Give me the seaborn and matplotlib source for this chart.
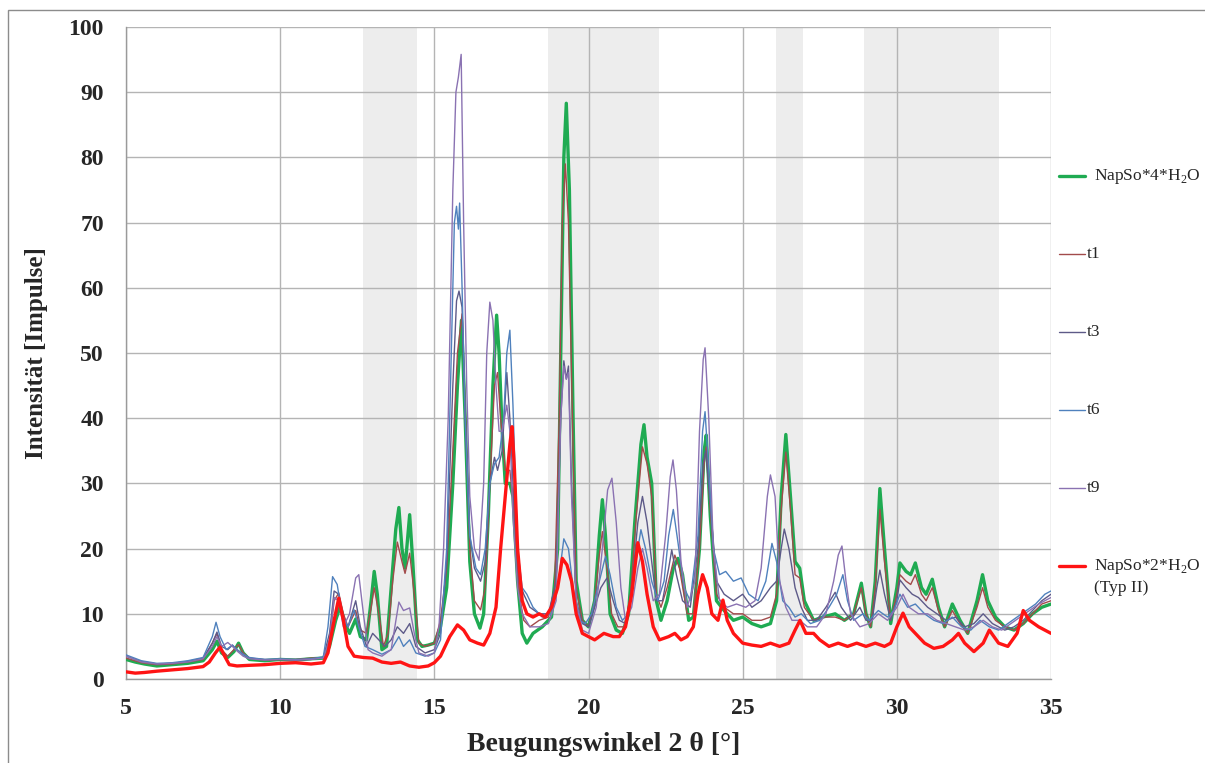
#XRD patterns: NapSo hydrates and samples t1..t9
import seaborn as sns
import matplotlib.pyplot as plt
import pandas as pd
from matplotlib.lines import Line2D
from matplotlib.patches import Rectangle

#Data (2 theta in degrees, intensity in counts)
x_h4 = [5.0, 5.3, 5.6, 6.0, 6.5, 7.0, 7.5, 7.8, 7.95, 8.1, 8.3, 8.5, 8.65, 8.8, 9.0, 9.5, 10.0, 10.5, 11.0, 11.4,
        11.6, 11.8, 11.95, 12.1, 12.25, 12.45, 12.6, 12.8, 12.95, 13.05, 13.15, 13.3, 13.45, 13.6, 13.75, 13.85, 13.95,
        14.05, 14.2, 14.3, 14.45, 14.6, 14.8, 15.0, 15.2, 15.4, 15.6, 15.75, 15.88, 16.0, 16.15, 16.3, 16.48, 16.6,
        16.75, 16.9, 17.02, 17.1, 17.2, 17.3, 17.45, 17.55, 17.7, 17.85, 18.0, 18.2, 18.5, 18.8, 19.0, 19.1, 19.2,
        19.28, 19.38, 19.5, 19.6, 19.8, 20.0, 20.2, 20.35, 20.45, 20.55, 20.7, 20.9, 21.1, 21.3, 21.5, 21.7, 21.8,
        21.9, 22.05, 22.2, 22.35, 22.55, 22.75, 22.9, 23.05, 23.25, 23.4, 23.6, 23.75, 23.82, 23.95, 24.15, 24.4,
        24.7, 25.0, 25.3, 25.6, 25.9, 26.1, 26.25, 26.4, 26.55, 26.7, 26.85, 27.0, 27.3, 27.6, 28.0, 28.3, 28.6,
        28.85, 29.0, 29.15, 29.3, 29.45, 29.6, 29.8, 30.0, 30.1, 30.3, 30.45, 30.6, 30.8, 30.95, 31.15, 31.35, 31.55,
        31.8, 32.05, 32.3, 32.6, 32.78, 32.95, 33.2, 33.5, 33.8, 34.1, 34.4, 34.7, 35.0]
y_h4 = [3.0, 2.6, 2.3, 2.0, 2.2, 2.4, 2.8, 4.5, 5.8, 4.0, 3.3, 4.2, 5.5, 4.0, 3.0, 2.8, 3.0, 2.9, 3.1, 3.2,
        5.0, 9.0, 11.2, 8.5, 7.0, 9.2, 6.5, 6.0, 12.0, 16.5, 13.0, 4.5, 5.0, 14.0, 23.0, 26.3, 20.0,
        17.0, 25.2, 18.0, 6.0, 5.0, 5.2, 5.5, 8.0, 14.0, 30.0, 45.0, 55.0, 40.0, 18.0, 10.0, 7.8, 10.0,
        25.0, 45.0, 55.8, 50.0, 38.0, 30.0, 30.0, 28.0, 15.0, 7.0, 5.5, 7.0, 8.0, 9.5, 20.0, 50.0, 80.0,
        88.3, 75.0, 40.0, 15.0, 9.0, 8.0, 12.0, 22.0, 27.5, 22.0, 10.0, 7.5, 7.0, 10.0, 24.0, 36.0, 39.0,
        34.0, 30.0, 12.0, 9.0, 12.0, 17.0, 18.5, 16.0, 9.0, 9.5, 20.0, 35.0, 37.4, 25.0, 12.0, 10.5,
        9.0, 9.5, 8.5, 8.0, 8.5, 12.0, 28.0, 37.5, 28.0, 18.0, 17.0, 12.0, 9.0, 9.5, 10.0, 9.0, 10.0,
        14.7, 10.0, 8.0, 15.0, 29.2, 20.0, 8.5, 14.0, 17.8, 16.5, 16.0, 17.8, 14.0, 13.0, 15.3, 11.0, 8.0,
        11.5, 9.0, 7.0, 12.0, 16.0, 12.0, 9.5, 8.0, 7.5, 8.5, 10.0, 11.0, 11.5]

x_t1 = [5.0, 5.5, 6.0, 6.5, 7.0, 7.5, 7.8, 7.95, 8.1, 8.3, 8.5, 8.65, 8.8, 9.0, 9.5, 10.0, 10.5, 11.0, 11.4, 11.6,
        11.75, 11.9, 12.05, 12.2, 12.45, 12.6, 12.8, 12.95, 13.05, 13.2, 13.35, 13.5, 13.65, 13.8, 13.95, 14.05, 14.2,
        14.35, 14.5, 14.7, 15.0, 15.2, 15.4, 15.6, 15.75, 15.9, 16.0, 16.15, 16.3, 16.5, 16.65, 16.8, 16.95, 17.05,
        17.15, 17.3, 17.45, 17.6, 17.75, 17.9, 18.1, 18.4, 18.7, 18.9, 19.05, 19.15, 19.25, 19.35, 19.5, 19.6, 19.8,
        20.0, 20.2, 20.35, 20.45, 20.6, 20.75, 20.95, 21.15, 21.35, 21.55, 21.75, 21.9, 22.05, 22.2, 22.35, 22.55,
        22.8, 22.95, 23.2, 23.4, 23.6, 23.75, 23.82, 23.95, 24.15, 24.4, 24.7, 25.0, 25.3, 25.6, 25.9, 26.1, 26.25,
        26.4, 26.55, 26.7, 26.85, 27.0, 27.3, 27.6, 28.0, 28.3, 28.6, 28.85, 29.0, 29.15, 29.3, 29.45, 29.6, 29.8,
        30.0, 30.1, 30.3, 30.45, 30.6, 30.8, 30.95, 31.15, 31.35, 31.55, 31.8, 32.05, 32.3, 32.6, 32.78, 32.95, 33.2,
        33.5, 33.8, 34.1, 34.4, 34.7, 35.0]
y_t1 = [3.2, 2.5, 2.2, 2.3, 2.6, 3.0, 5.5, 7.0, 4.5, 3.5, 4.5, 5.3, 4.0, 3.2, 2.9, 3.0, 3.0, 3.2, 3.3, 6.0,
        12.0, 13.2, 10.0, 8.0, 10.5, 7.5, 7.0, 11.0, 14.0, 10.0, 5.0, 7.0, 15.0, 21.0, 18.0, 16.2, 19.3,
        13.0, 5.5, 5.0, 5.5, 9.0, 17.0, 35.0, 50.0, 56.0, 42.0, 20.0, 12.0, 10.6, 14.0, 30.0, 45.0, 47.0,
        40.0, 32.0, 32.0, 25.0, 13.0, 9.0, 8.0, 9.0, 9.5, 14.0, 40.0, 70.0, 79.0, 70.0, 35.0, 14.0, 9.0,
        8.0, 12.0, 19.0, 22.6, 17.0, 10.0, 8.0, 8.0, 12.0, 25.0, 35.6, 33.0, 28.0, 13.0, 11.0, 14.0,
        19.0, 17.0, 10.0, 10.0, 20.0, 33.0, 35.6, 26.0, 13.0, 11.0, 10.0, 10.0, 9.0, 9.0, 9.5, 13.0, 26.0,
        34.8, 26.0, 16.0, 15.5, 11.0, 9.0, 9.5, 9.5, 9.0, 10.0, 14.0, 10.0, 8.0, 14.0, 26.0, 18.0, 9.0,
        13.0, 16.0, 15.0, 14.5, 16.0, 13.0, 12.0, 14.0, 10.5, 8.0, 10.5, 8.5, 7.0, 11.0, 14.0, 11.0, 9.0,
        8.0, 7.5, 8.5, 10.0, 11.5, 12.0]

x_t3 = [5.0, 5.5, 6.0, 6.5, 7.0, 7.5, 7.8, 7.95, 8.1, 8.3, 8.45, 8.6, 8.8, 9.0, 9.5, 10.0, 10.5, 11.0, 11.4, 11.6,
        11.75, 11.9, 12.05, 12.2, 12.45, 12.6, 12.8, 13.0, 13.2, 13.4, 13.6, 13.8, 14.0, 14.2, 14.4, 14.7, 15.0,
        15.2, 15.4, 15.6, 15.72, 15.8, 15.9, 16.0, 16.15, 16.3, 16.5, 16.65, 16.8, 16.95, 17.05, 17.2, 17.35, 17.45,
        17.6, 17.75, 17.9, 18.1, 18.4, 18.7, 18.95, 19.1, 19.2, 19.28, 19.35, 19.45, 19.6, 19.8, 20.0, 20.2, 20.4,
        20.6, 20.8, 21.0, 21.2, 21.4, 21.6, 21.75, 21.9, 22.05, 22.2, 22.4, 22.6, 22.7, 22.85, 23.05, 23.3, 23.55,
        23.72, 23.8, 23.95, 24.15, 24.4, 24.7, 25.0, 25.3, 25.6, 25.9, 26.1, 26.25, 26.35, 26.5, 26.7, 26.9, 27.1,
        27.4, 27.7, 28.0, 28.2, 28.5, 28.8, 29.0, 29.2, 29.35, 29.45, 29.6, 29.8, 30.0, 30.1, 30.3, 30.5, 30.7,
        31.0, 31.3, 31.6, 31.9, 32.2, 32.5, 32.8, 33.1, 33.5, 33.8, 34.1, 34.4, 34.7, 35.0]
y_t3 = [3.5, 2.7, 2.3, 2.4, 2.7, 3.2, 5.5, 7.2, 5.0, 4.5, 5.2, 4.5, 3.8, 3.2, 3.0, 3.0, 2.9, 3.0, 3.3, 7.0,
        13.5, 13.0, 9.0, 8.0, 12.0, 8.0, 5.0, 7.0, 6.0, 5.0, 6.0, 8.0, 7.0, 8.5, 5.0, 4.0, 4.5,
        7.0, 18.0, 45.0, 58.0, 59.5, 57.0, 40.0, 22.0, 17.0, 15.0, 18.0, 30.0, 34.0, 32.0, 35.0, 47.0, 40.0,
        25.0, 15.0, 13.0, 11.0, 10.0, 10.0, 15.0, 40.0, 48.8, 46.0, 48.0, 30.0, 12.0, 8.5, 8.0, 11.0, 14.0,
        15.5, 12.0, 9.0, 8.5, 14.0, 24.0, 28.0, 24.0, 18.0, 12.0, 12.0, 17.0, 19.8, 16.0, 12.0, 11.0, 20.0,
        33.0, 35.0, 27.0, 15.0, 13.0, 12.0, 13.0, 11.0, 12.0, 14.0, 15.0, 20.0, 23.0, 20.0, 14.0, 11.0, 9.0,
        9.0, 11.0, 13.3, 11.0, 9.0, 11.0, 9.0, 9.0, 14.0, 16.7, 13.0, 9.0, 12.0, 15.2, 14.0, 13.0, 12.5,
        11.0, 10.0, 9.0, 9.5, 8.0, 8.5, 10.0, 8.5, 7.5, 8.0, 9.0, 10.5, 12.0, 13.0]

x_t6 = [5.0, 5.5, 6.0, 6.5, 7.0, 7.5, 7.8, 7.92, 8.05, 8.25, 8.45, 8.6, 8.8, 9.0, 9.5, 10.0, 10.5, 11.0, 11.4, 11.55,
        11.7, 11.85, 12.0, 12.2, 12.4, 12.55, 12.75, 13.0, 13.3, 13.6, 13.85, 14.0, 14.2, 14.4, 14.7, 15.0, 15.2,
        15.4, 15.55, 15.65, 15.72, 15.78, 15.82, 15.9, 16.0, 16.15, 16.35, 16.5, 16.65, 16.8, 16.95, 17.1, 17.25,
        17.35, 17.45, 17.55, 17.7, 17.85, 18.0, 18.2, 18.5, 18.8, 19.0, 19.2, 19.35, 19.5, 19.7, 19.9, 20.1, 20.3,
        20.55, 20.7, 20.9, 21.1, 21.3, 21.5, 21.7, 21.85, 22.05, 22.25, 22.45, 22.6, 22.75, 22.9, 23.1, 23.3, 23.55,
        23.7, 23.78, 23.9, 24.05, 24.25, 24.45, 24.7, 24.95, 25.2, 25.5, 25.75, 25.95, 26.1, 26.3, 26.5, 26.7, 26.9,
        27.2, 27.5, 27.8, 28.05, 28.25, 28.4, 28.6, 28.9, 29.1, 29.4, 29.7, 29.9, 30.1, 30.35, 30.6, 30.9, 31.2,
        31.5, 31.8, 32.1, 32.4, 32.7, 33.0, 33.3, 33.6, 33.9, 34.2, 34.5, 34.8, 35.0]
y_t6 = [3.7, 2.8, 2.4, 2.5, 2.8, 3.3, 6.5, 8.7, 6.5, 4.5, 5.2, 4.5, 3.8, 3.3, 3.0, 3.1, 3.0, 3.1, 3.4, 8.0,
        15.7, 14.5, 10.0, 8.0, 10.6, 8.0, 5.0, 4.5, 3.8, 4.5, 6.5, 5.0, 6.0, 4.0, 3.5, 4.0, 6.0,
        20.0, 50.0, 70.0, 72.5, 69.0, 73.0, 60.0, 40.0, 22.0, 17.0, 16.0, 20.0, 30.0, 33.0, 34.0, 40.0,
        50.0, 53.5, 42.0, 20.0, 14.0, 13.0, 11.0, 9.5, 10.0, 14.0, 21.5, 20.0, 14.0, 9.0, 8.5, 10.0, 14.0,
        18.8, 16.0, 11.0, 9.0, 10.0, 17.0, 22.9, 20.0, 15.0, 12.0, 15.0, 22.0, 26.0, 21.0, 14.0, 12.0, 22.0,
        38.0, 41.0, 32.0, 20.0, 16.0, 16.5, 15.0, 15.5, 13.0, 12.0, 15.0, 20.8, 18.0, 12.0, 11.0, 9.5, 10.0,
        8.5, 9.0, 11.0, 13.0, 16.0, 12.0, 9.0, 10.0, 9.0, 10.5, 9.5, 10.5, 13.0, 11.0, 11.5, 10.0, 9.0,
        8.5, 9.5, 8.0, 7.5, 9.0, 8.0, 7.5, 8.5, 9.5, 10.5, 11.5, 13.0, 13.5]

x_t9 = [5.0, 5.5, 6.0, 6.5, 7.0, 7.5, 7.8, 7.95, 8.1, 8.3, 8.45, 8.6, 8.8, 9.0, 9.5, 10.0, 10.5, 11.0, 11.4, 11.6,
        11.75, 11.9, 12.05, 12.25, 12.45, 12.55, 12.7, 12.85, 13.0, 13.3, 13.6, 13.85, 14.0, 14.2, 14.35, 14.5, 14.8,
        15.0, 15.15, 15.3, 15.45, 15.6, 15.7, 15.78, 15.87, 15.95, 16.05, 16.15, 16.3, 16.45, 16.6, 16.7, 16.8, 16.9,
        17.0, 17.1, 17.2, 17.35, 17.45, 17.55, 17.7, 17.85, 18.1, 18.4, 18.7, 18.95, 19.1, 19.2, 19.28, 19.35, 19.45,
        19.6, 19.8, 20.0, 20.25, 20.45, 20.62, 20.76, 20.9, 21.05, 21.2, 21.4, 21.6, 21.75, 21.9, 22.1, 22.3, 22.5,
        22.65, 22.74, 22.85, 23.0, 23.2, 23.45, 23.6, 23.72, 23.78, 23.9, 24.05, 24.25, 24.5, 24.8, 25.1, 25.4, 25.6,
        25.8, 25.9, 26.05, 26.2, 26.4, 26.6, 26.85, 27.1, 27.4, 27.7, 27.95, 28.1, 28.22, 28.35, 28.5, 28.8, 29.1,
        29.4, 29.7, 30.0, 30.2, 30.4, 30.7, 31.0, 31.3, 31.6, 31.9, 32.2, 32.5, 32.8, 33.1, 33.4, 33.7, 34.0, 34.3,
        34.6, 35.0]
y_t9 = [3.5, 2.6, 2.3, 2.4, 2.6, 3.1, 5.0, 6.5, 5.0, 5.6, 5.0, 4.3, 3.5, 3.1, 2.9, 3.0, 2.9, 3.0, 3.2, 6.0,
        12.5, 12.0, 8.0, 10.0, 15.5, 16.0, 10.0, 4.5, 4.0, 3.5, 4.5, 11.8, 10.5, 10.9, 7.0, 4.0, 3.5,
        4.0, 8.0, 20.0, 40.0, 75.0, 90.0, 92.3, 95.8, 70.0, 45.0, 28.0, 20.0, 18.2, 30.0, 50.0, 57.8, 55.0,
        45.0, 38.0, 38.0, 42.0, 38.0, 25.0, 14.0, 10.0, 8.0, 8.0, 8.5, 12.0, 40.0, 48.0, 46.0, 47.0, 28.0,
        12.0, 7.5, 7.0, 11.0, 20.0, 29.0, 30.8, 24.0, 14.0, 9.0, 11.0, 17.0, 20.0, 17.0, 12.0, 13.0, 22.0,
        31.0, 33.6, 29.0, 18.0, 11.0, 15.0, 38.0, 49.0, 50.8, 40.0, 20.0, 12.0, 11.0, 11.5, 11.0, 12.0, 17.0,
        28.0, 31.3, 28.0, 15.0, 11.0, 9.0, 9.0, 8.0, 8.0, 10.0, 15.0, 19.0, 20.4, 15.0, 10.0, 8.0, 8.5,
        10.0, 9.0, 11.0, 13.0, 11.0, 10.0, 10.0, 9.0, 8.5, 8.0, 7.5, 8.0, 9.0, 8.0, 7.5, 8.5, 9.5, 10.5,
        11.5, 12.5]

x_h2 = [5.0, 5.3, 5.6, 6.0, 6.5, 7.0, 7.5, 7.7, 7.9, 8.05, 8.2, 8.35, 8.6, 9.0, 9.5, 10.0, 10.5, 11.0, 11.4, 11.55,
        11.75, 11.9, 12.05, 12.2, 12.4, 12.7, 13.0, 13.3, 13.6, 13.9, 14.2, 14.5, 14.8, 15.0, 15.2, 15.5, 15.75,
        15.95, 16.15, 16.4, 16.6, 16.8, 17.0, 17.15, 17.3, 17.45, 17.52, 17.6, 17.7, 17.85, 18.0, 18.2, 18.4, 18.6,
        18.8, 19.0, 19.15, 19.3, 19.45, 19.6, 19.8, 20.0, 20.2, 20.5, 20.8, 21.0, 21.2, 21.4, 21.6, 21.75, 21.9,
        22.1, 22.3, 22.6, 22.8, 23.0, 23.2, 23.4, 23.55, 23.7, 23.85, 24.0, 24.2, 24.36, 24.5, 24.7, 25.0, 25.3,
        25.6, 25.9, 26.2, 26.5, 26.7, 26.86, 27.05, 27.3, 27.5, 27.8, 28.1, 28.4, 28.7, 29.0, 29.3, 29.6, 29.8,
        30.0, 30.2, 30.4, 30.6, 30.9, 31.2, 31.5, 31.8, 32.0, 32.2, 32.5, 32.8, 33.0, 33.3, 33.6, 33.9, 34.1,
        34.3, 34.6, 35.0]
y_h2 = [1.1, 0.9, 1.0, 1.2, 1.4, 1.6, 1.9, 2.6, 4.0, 4.9, 3.5, 2.2, 2.0, 2.1, 2.2, 2.4, 2.5, 2.3, 2.5, 4.0,
        9.0, 12.4, 9.0, 5.0, 3.5, 3.3, 3.2, 2.6, 2.4, 2.6, 2.0, 1.8, 2.0, 2.5, 3.5, 6.5, 8.3,
        7.5, 6.0, 5.5, 5.2, 7.0, 11.0, 20.0, 28.0, 36.0, 38.7, 32.0, 20.0, 12.0, 10.0, 9.5, 10.0, 9.5,
        11.0, 14.0, 18.5, 17.5, 15.0, 10.0, 7.0, 6.5, 6.0, 7.0, 6.5, 6.5, 8.0, 13.0, 20.9, 18.0, 13.0,
        8.0, 6.0, 6.5, 7.0, 6.0, 6.5, 8.0, 13.0, 16.0, 14.0, 10.0, 9.0, 12.1, 9.0, 7.0, 5.5, 5.2,
        5.0, 5.5, 5.0, 5.5, 7.5, 9.0, 7.0, 7.0, 6.0, 5.0, 5.5, 5.0, 5.5, 5.0, 5.5, 5.0, 5.5,
        8.0, 10.1, 8.0, 7.0, 5.5, 4.7, 5.0, 6.0, 7.0, 5.5, 4.2, 5.5, 7.5, 5.5, 5.0, 7.0, 10.5,
        9.0, 8.0, 7.0]

labels = ["NapSo*4*H$_2$O", "t1", "t3", "t6", "t9", "NapSo*2*H$_2$O"]
colors = ["#1fab52", "#a24b4b", "#5d5a88", "#4f81bd", "#8a72b2", "#ff1414"]
widths = [2.4, 1.0, 1.0, 1.0, 1.0, 2.4]
series = [(x_h4, y_h4), (x_t1, y_t1), (x_t3, y_t3), (x_t6, y_t6), (x_t9, y_t9), (x_h2, y_h2)]

#shaded 2 theta ranges
bands = [(12.7, 14.45), (18.7, 22.3), (26.08, 26.96), (28.95, 33.3)]

sns.set_theme(style="white")
plt.rcParams["font.family"] = ["Liberation Serif", "DejaVu Serif"]
plt.rcParams["mathtext.fontset"] = "custom"
plt.rcParams["mathtext.rm"] = "Liberation Serif"

fig = plt.figure(figsize=(12.05, 7.63), dpi=100)
ax = fig.add_axes([126 / 1205, 1 - 679 / 763, 925 / 1205, 652 / 763])

for lo, hi in bands:
    ax.axvspan(lo, hi, color="#ededed", lw=0, zorder=0)

for (xs, ys), col, lw in zip(series, colors, widths):
    df = pd.DataFrame({"x": xs, "y": ys})
    sns.lineplot(data=df, x="x", y="y", ax=ax, color=col, lw=lw, estimator=None, sort=False, zorder=3)

ax.set_xlim(5, 35)
ax.set_ylim(0, 100)
ax.set_xticks(range(5, 36, 5))
ax.set_yticks(range(0, 101, 10))
ax.grid(True, color="#b4b4b4", lw=1.0, zorder=1)
ax.set_axisbelow(True)
for s in ["top", "right"]:
    ax.spines[s].set_visible(False)
for s in ["left", "bottom"]:
    ax.spines[s].set_color("#9a9a9a")
    ax.spines[s].set_linewidth(1.0)
ax.tick_params(axis="y", direction="out", length=4, color="#9a9a9a", pad=12, labelsize=17)
ax.tick_params(axis="x", direction="out", length=0, pad=14, labelsize=17)
for t in ax.get_xticklabels() + ax.get_yticklabels():
    t.set_fontweight("bold")

ax.set_xlabel("Beugungswinkel 2 θ [°]", fontsize=20, fontweight="bold")
ax.set_ylabel("Intensität [Impulse]", fontsize=18, fontweight="bold")
ax.xaxis.set_label_coords(0.516, -0.081)
ax.yaxis.set_label_coords(-0.084, 0.5)

#legend drawn by hand, entries spread down the right side
leg_y = [176, 254, 332, 410, 488, 566]
for yy, lab, col, lw in zip(leg_y, labels, colors, widths):
    fy = 1 - yy / 763
    thick = lw > 2
    fig.add_artist(Line2D([1059 / 1205, 1085 / 1205], [fy, fy], color=col, lw=lw, transform=fig.transFigure))
    tx = 1094 if thick else 1087
    fig.text(tx / 1205, fy, lab, fontsize=12.5, ha="left", va="center")
fig.text(1094 / 1205, 1 - 588 / 763, "(Typ II)", fontsize=12.5, ha="left", va="center")

#outer chart frame
fig.add_artist(Rectangle((8 / 1205, -0.05), 1.2, 1 - 10 / 763 + 0.05, transform=fig.transFigure,
                         fill=False, edgecolor="#8c8c8c", lw=1.0))

fig.savefig("out.png", dpi=100)
